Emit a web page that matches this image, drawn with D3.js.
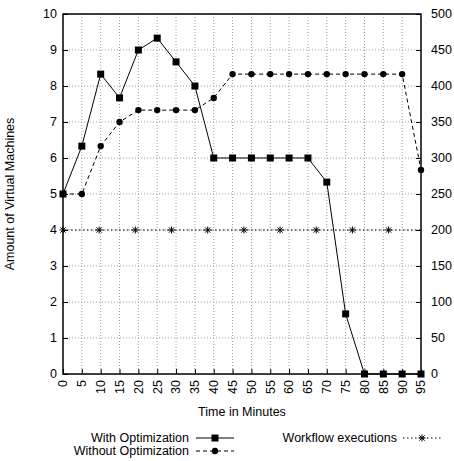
<!DOCTYPE html>
<html>
<head>
<meta charset="utf-8">
<script src="https://cdn.jsdelivr.net/npm/d3@7"></script>
<style>
  html, body { margin: 0; padding: 0; background: #fff; }
  svg { display: block; font-family: "Liberation Sans", Arial, sans-serif; }
</style>
</head>
<body>
<svg id="chart" width="454" height="461"></svg>
<script>
// Time axis (minutes)
const minutes = [0, 5, 10, 15, 20, 25, 30, 35, 40, 45, 50, 55, 60, 65, 70, 75, 80, 85, 90, 95];
// Virtual machines in use
const withOptimization = [5, 6.33, 8.33, 7.67, 9, 9.33, 8.67, 8, 6, 6, 6, 6, 6, 6, 5.33, 1.67, 0, 0, 0, 0];
const withoutOptimization = [5, 5, 6.33, 7, 7.33, 7.33, 7.33, 7.33, 7.67, 8.33, 8.33, 8.33, 8.33, 8.33, 8.33, 8.33, 8.33, 8.33, 8.33, 5.67];
// Workflow executions (right axis)
const workflowTimes = [0, 9.6, 19.2, 28.8, 38.4, 48, 57.6, 67.2, 76.8, 86.4, 95];
const workflowValues = [200, 200, 200, 200, 200, 200, 200, 200, 200, 200, 200];
const workflowMarked = [true, true, true, true, true, true, true, true, true, true, false];
// Tick labels
const leftTicks = [0, 1, 2, 3, 4, 5, 6, 7, 8, 9, 10];
const rightTicks = [0, 50, 100, 150, 200, 250, 300, 350, 400, 450, 500];

const svg = d3.select("#chart");
const m = { left: 63, right: 421, top: 14, bottom: 374 };
const fs = "12.5px";

const x = d3.scaleLinear().domain([0, 95]).range([m.left, m.right]);
const y = d3.scaleLinear().domain([0, 10]).range([m.bottom, m.top]);
const y2 = d3.scaleLinear().domain([0, 500]).range([m.bottom, m.top]);

// Grid
const grid = svg.append("g").attr("stroke", "#888").attr("stroke-width", 0.8)
  .attr("stroke-dasharray", "1,2");
grid.selectAll("line.v").data(minutes.slice(1, -1)).join("line")
  .attr("x1", d => x(d)).attr("x2", d => x(d))
  .attr("y1", m.top).attr("y2", m.bottom);
grid.selectAll("line.h").data(leftTicks.slice(1, -1)).join("line")
  .attr("x1", m.left).attr("x2", m.right)
  .attr("y1", d => y(d)).attr("y2", d => y(d));

// Axes (ticks pointing inward)
const xAxis = d3.axisTop(x).tickValues(minutes).tickSize(5).tickFormat("");
svg.append("g").attr("transform", `translate(0,${m.bottom})`).call(xAxis)
  .call(g => g.select(".domain").remove());
const yAxis = d3.axisRight(y).tickValues(leftTicks).tickSize(5).tickFormat("");
svg.append("g").attr("transform", `translate(${m.left},0)`).call(yAxis)
  .call(g => g.select(".domain").remove());
const y2Axis = d3.axisLeft(y2).tickValues(rightTicks).tickSize(5).tickFormat("");
svg.append("g").attr("transform", `translate(${m.right},0)`).call(y2Axis)
  .call(g => g.select(".domain").remove());

// Tick labels
svg.append("g").selectAll("text").data(leftTicks).join("text")
  .attr("x", m.left - 6).attr("y", d => y(d)).attr("dy", "0.35em")
  .attr("text-anchor", "end").attr("font-size", fs).text(d => d);
svg.append("g").selectAll("text").data(rightTicks).join("text")
  .attr("x", m.right + 10).attr("y", d => y2(d)).attr("dy", "0.35em")
  .attr("text-anchor", "start").attr("font-size", fs).text(d => d);
svg.append("g").selectAll("text").data(minutes).join("text")
  .attr("transform", d => `translate(${x(d)},${m.bottom + 6}) rotate(-90)`)
  .attr("dy", "0.35em").attr("text-anchor", "end").attr("font-size", fs)
  .text(d => d);

// Axis titles
svg.append("text").attr("x", (m.left + m.right) / 2).attr("y", 416)
  .attr("text-anchor", "middle").attr("font-size", fs).text("Time in Minutes");
svg.append("text")
  .attr("transform", `translate(14,${(m.top + m.bottom) / 2}) rotate(-90)`)
  .attr("text-anchor", "middle").attr("font-size", fs)
  .text("Amount of Virtual Machines");

// Series
const lineL = d3.line().x(d => x(d[0])).y(d => y(d[1]));
const lineR = d3.line().x(d => x(d[0])).y(d => y2(d[1]));
const wfPts = d3.zip(workflowTimes, workflowValues);
const withPts = d3.zip(minutes, withOptimization);
const withoutPts = d3.zip(minutes, withoutOptimization);

const starPath = s => `M${-s},0H${s}M0,${-s}V${s}M${-s * 0.75},${-s * 0.75}L${s * 0.75},${s * 0.75}M${-s * 0.75},${s * 0.75}L${s * 0.75},${-s * 0.75}`;

svg.append("path").datum(wfPts).attr("d", lineR).attr("fill", "none")
  .attr("stroke", "#000").attr("stroke-width", 1).attr("stroke-dasharray", "1.5,2.5");
svg.append("g").selectAll("path").data(wfPts.filter((d, i) => workflowMarked[i])).join("path")
  .attr("transform", d => `translate(${x(d[0])},${y2(d[1])})`)
  .attr("d", starPath(3.5)).attr("stroke", "#000").attr("stroke-width", 1).attr("fill", "none");

svg.append("path").datum(withoutPts).attr("d", lineL).attr("fill", "none")
  .attr("stroke", "#000").attr("stroke-width", 1).attr("stroke-dasharray", "4,3");
svg.append("g").selectAll("circle").data(withoutPts).join("circle")
  .attr("cx", d => x(d[0])).attr("cy", d => y(d[1])).attr("r", 3.2).attr("fill", "#000");

svg.append("path").datum(withPts).attr("d", lineL).attr("fill", "none")
  .attr("stroke", "#000").attr("stroke-width", 1);
svg.append("g").selectAll("rect").data(withPts).join("rect")
  .attr("x", d => x(d[0]) - 3.5).attr("y", d => y(d[1]) - 3.5)
  .attr("width", 7).attr("height", 7).attr("fill", "#000");

// Border
svg.append("rect").attr("x", m.left).attr("y", m.top)
  .attr("width", m.right - m.left).attr("height", m.bottom - m.top)
  .attr("fill", "none").attr("stroke", "#000").attr("stroke-width", 1.5);

// Legend
const legend = svg.append("g").attr("font-size", fs);
const legendItems = [
  { label: "With Optimization", tx: 189, y: 438, x0: 196, x1: 234, kind: "with" },
  { label: "Without Optimization", tx: 189, y: 451, x0: 196, x1: 234, kind: "without" },
  { label: "Workflow executions", tx: 397, y: 438, x0: 403, x1: 441, kind: "wf" }
];
legendItems.forEach(it => {
  legend.append("text").attr("x", it.tx).attr("y", it.y).attr("dy", "0.35em")
    .attr("text-anchor", "end").text(it.label);
  const ln = legend.append("line").attr("x1", it.x0).attr("x2", it.x1)
    .attr("y1", it.y).attr("y2", it.y).attr("stroke", "#000").attr("stroke-width", 1);
  const cx = (it.x0 + it.x1) / 2;
  if (it.kind === "with") {
    legend.append("rect").attr("x", cx - 3.5).attr("y", it.y - 3.5)
      .attr("width", 7).attr("height", 7).attr("fill", "#000");
  } else if (it.kind === "without") {
    ln.attr("stroke-dasharray", "4,3");
    legend.append("circle").attr("cx", cx).attr("cy", it.y).attr("r", 3.2).attr("fill", "#000");
  } else {
    ln.attr("stroke-dasharray", "1.5,2.5");
    legend.append("path").attr("transform", `translate(${cx},${it.y})`)
      .attr("d", starPath(3.5)).attr("stroke", "#000").attr("fill", "none");
  }
});
</script>
</body>
</html>
